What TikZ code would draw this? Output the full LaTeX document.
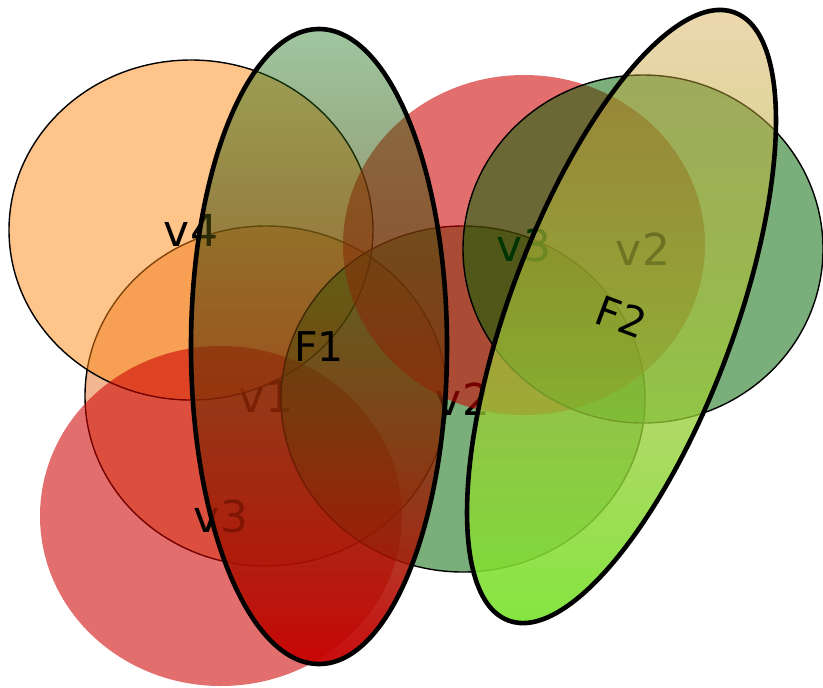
\documentclass[tikz,border=0pt]{standalone}
\usepackage{fontspec}
\setmainfont{DejaVu Sans}
\usetikzlibrary{shapes.geometric,fadings}
\definecolor{vorange}{RGB}{253,137,19}
\definecolor{vbrown}{RGB}{229,111,37}
\definecolor{vred}{RGB}{204,0,0}
\definecolor{vgreen}{RGB}{0,100,0}
\definecolor{fgreen}{RGB}{17,112,17}
\definecolor{fred}{RGB}{200,0,0}
\definecolor{ftan}{RGB}{212,157,62}
\definecolor{flime}{RGB}{120,230,50}
\tikzfading[name=edgefade, top color=transparent!60, bottom color=transparent!5]

\begin{document}
\begin{tikzpicture}[x=0.5pt, y=-0.5pt,
        vert/.style={ellipse, inner sep=0pt, line width=0.7pt, fill opacity=0.52, text opacity=1, font=\fontsize{22}{26}\selectfont},
        hedge/.style={ellipse, inner sep=0pt, draw, line width=2.3pt, font=\fontsize{20.5}{24}\selectfont}]
        \useasboundingbox (0,0) rectangle (823,687);
        \node[vert, draw, fill=vbrown, fill opacity=0.5, minimum width=181pt, minimum height=170pt] (v1) at (266,396) {v1};
        \node[vert, draw, fill=vorange, fill opacity=0.5, minimum width=182pt, minimum height=170pt] (v4) at (191,230) {v4};
        \node[vert, fill=vred, fill opacity=0.57, minimum width=181pt, minimum height=170pt] (v3) at (221,516) {v3};
        \node[vert, draw, fill=vgreen, minimum width=182pt, minimum height=173pt] (v2) at (463,399) {v2};
        \node[vert, fill=vred, fill opacity=0.57, minimum width=181pt, minimum height=170pt] (w3) at (524,245) {v3};
        \node[vert, draw, fill=vgreen, minimum width=180pt, minimum height=174pt] (w2) at (643,249) {v2};
        % hyperedges
        \shade[top color=fgreen, bottom color=fred, path fading=edgefade] (319,346.5) ellipse [x radius=128, y radius=317.5];
        \node[hedge, minimum width=128pt, minimum height=317.5pt] (F1) at (319,346.5) {F1};
        \shade[rotate around={-20.4:(621.5,316.5)}, top color=ftan, bottom color=flime, path fading=edgefade] (621.5,316.5) ellipse [x radius=112.3, y radius=324.4];
        \node[hedge, rotate=-20.4, minimum width=112.3pt, minimum height=324.4pt] (F2) at (621.5,316.5) {F2};
    \end{tikzpicture}
\end{document}
